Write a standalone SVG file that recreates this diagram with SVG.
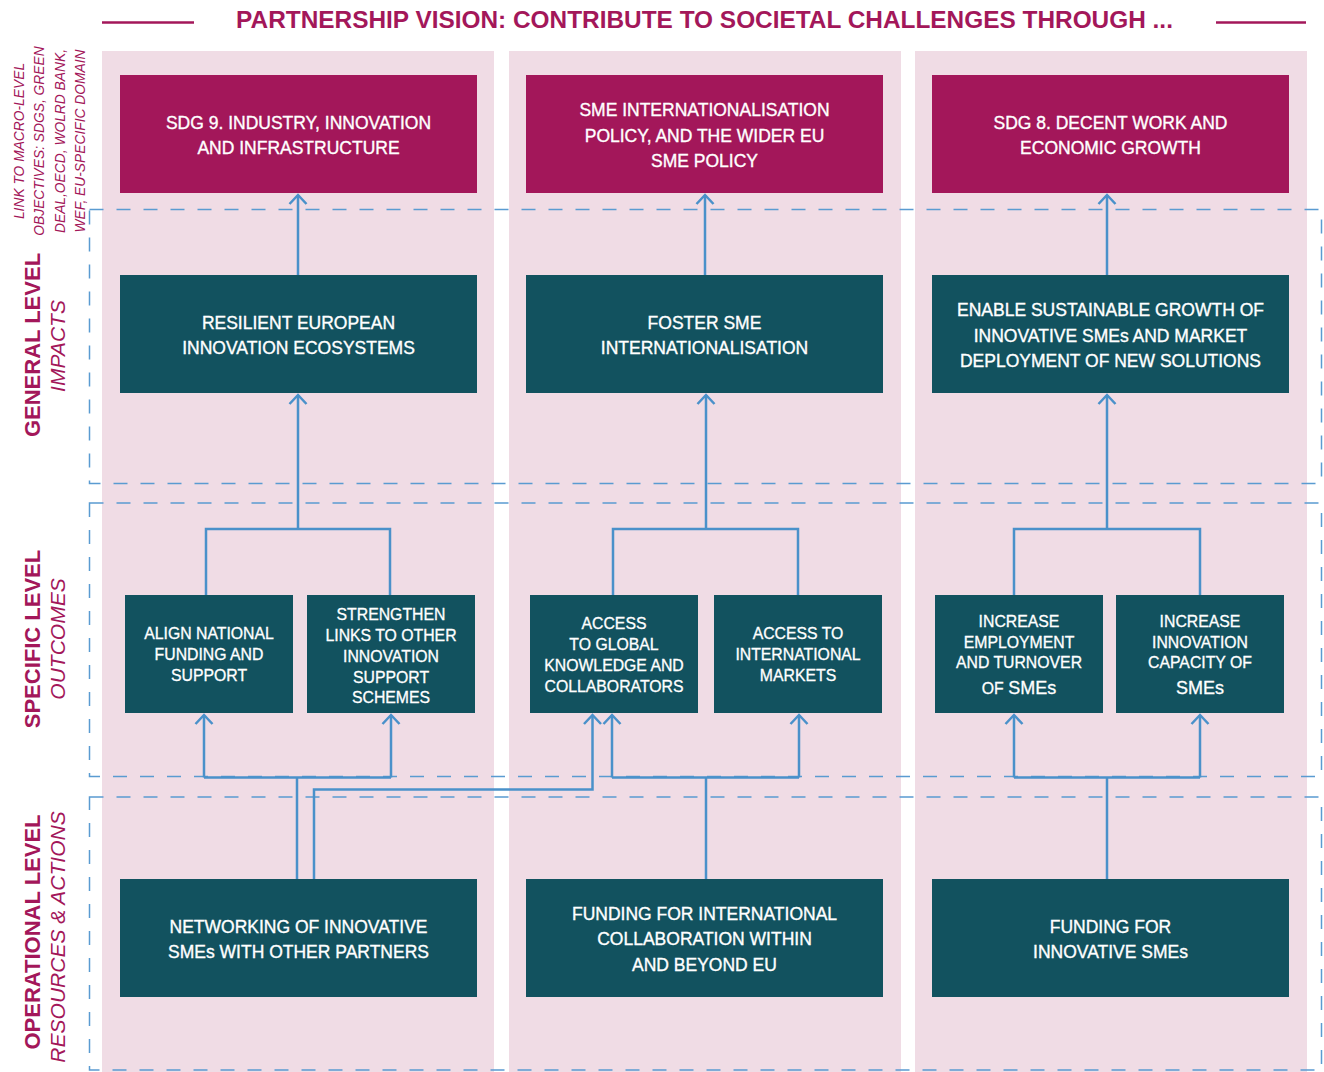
<svg xmlns="http://www.w3.org/2000/svg" width="1324" height="1072" viewBox="0 0 1324 1072">
<defs>
<style>
.col{fill:#f0dce5}
.mag{fill:#a3175a}
.teal{fill:#12525f}
.dash{fill:none;stroke:#5a9bd1;stroke-width:1.5;stroke-dasharray:14 13}
.con{fill:none;stroke:#4a91ca;stroke-width:2.5}
.arr{marker-end:url(#ah)}
.bt{font-family:"Liberation Sans",Arial,sans-serif;font-size:17.5px;fill:#ffffff;stroke:#ffffff;stroke-width:0.35;text-anchor:middle}
.st{font-family:"Liberation Sans",Arial,sans-serif;font-size:15.8px;fill:#ffffff;stroke:#ffffff;stroke-width:0.3;text-anchor:middle}
.big{font-size:18px}
.title{font-family:"Liberation Sans",Arial,sans-serif;font-size:24.4px;font-weight:bold;fill:#a3175a;text-anchor:middle}
.lvl{font-family:"Liberation Sans",Arial,sans-serif;font-size:22px;font-weight:bold;fill:#a3175a;text-anchor:middle}
.sub{font-family:"Liberation Sans",Arial,sans-serif;font-size:21px;font-style:italic;fill:#a3175a;text-anchor:middle}
.link{font-family:"Liberation Sans",Arial,sans-serif;font-size:13.8px;font-style:italic;fill:#a3175a;text-anchor:middle}
</style>
<marker id="ah" markerUnits="userSpaceOnUse" markerWidth="24" markerHeight="24" viewBox="-12 -12 24 24" refX="0" refY="0" orient="auto" overflow="visible">
<path d="M-9,-8.5 L0,0 L-9,8.5" fill="none" stroke="#4a91ca" stroke-width="2.5"/>
</marker>
</defs>
<rect width="1324" height="1072" fill="#ffffff"/>
<g id="background">
<rect class="col" x="102" y="51" width="392" height="1021"/>
<rect class="col" x="509" y="51" width="392" height="1021"/>
<rect class="col" x="915" y="51" width="392" height="1021"/>
<line x1="102" y1="22.5" x2="194" y2="22.5" stroke="#a3175a" stroke-width="2.5"/>
<line x1="1216" y1="22.5" x2="1306" y2="22.5" stroke="#a3175a" stroke-width="2.5"/>
<text class="title" x="704.5" y="28">PARTNERSHIP VISION: CONTRIBUTE TO SOCIETAL CHALLENGES THROUGH ...</text>
</g>
<g id="levels">
<rect class="dash" x="89.5" y="209.5" width="1232" height="274"/>
<rect class="dash" x="89.5" y="503" width="1232" height="273.5"/>
<rect class="dash" x="89.5" y="797" width="1232" height="273"/>
<g transform="translate(23.5,141) rotate(-90)"><text class="link" x="0" y="0">LINK TO MACRO-LEVEL</text></g>
<g transform="translate(44.3,141) rotate(-90)"><text class="link" x="0" y="0">OBJECTIVES: SDGS, GREEN</text></g>
<g transform="translate(64.8,141) rotate(-90)"><text class="link" x="0" y="0">DEAL,OECD, WOLRD BANK,</text></g>
<g transform="translate(85.3,141) rotate(-90)"><text class="link" x="0" y="0">WEF, EU-SPECIFIC DOMAIN</text></g>
<g transform="translate(39.5,345) rotate(-90)"><text class="lvl" x="0" y="0">GENERAL LEVEL</text></g>
<g transform="translate(65,346) rotate(-90)"><text class="sub" x="0" y="0">IMPACTS</text></g>
<g transform="translate(39.5,639) rotate(-90)"><text class="lvl" x="0" y="0">SPECIFIC LEVEL</text></g>
<g transform="translate(65,639) rotate(-90)"><text class="sub" x="0" y="0">OUTCOMES</text></g>
<g transform="translate(39.5,932) rotate(-90)"><text class="lvl" x="0" y="0">OPERATIONAL LEVEL</text></g>
<g transform="translate(65,937) rotate(-90)"><text class="sub" x="0" y="0">RESOURCES &amp; ACTIONS</text></g>
</g>
<g id="sdg9">
<rect class="mag" x="120" y="75" width="357" height="118"/>
<text class="bt" x="298.5" y="129">SDG 9. INDUSTRY, INNOVATION</text>
<text class="bt" x="298.5" y="154">AND INFRASTRUCTURE</text>
</g>
<g id="sme-policy">
<rect class="mag" x="526" y="75" width="357" height="118"/>
<text class="bt" x="704.5" y="116">SME INTERNATIONALISATION</text>
<text class="bt" x="704.5" y="141.5">POLICY, AND THE WIDER EU</text>
<text class="bt" x="704.5" y="167">SME POLICY</text>
</g>
<g id="sdg8">
<rect class="mag" x="932" y="75" width="357" height="118"/>
<text class="bt" x="1110.5" y="129">SDG 8. DECENT WORK AND</text>
<text class="bt" x="1110.5" y="154">ECONOMIC GROWTH</text>
</g>
<g id="resilient">
<rect class="teal" x="120" y="275" width="357" height="118"/>
<text class="bt" x="298.5" y="329.3">RESILIENT EUROPEAN</text>
<text class="bt" x="298.5" y="353.8">INNOVATION ECOSYSTEMS</text>
</g>
<g id="foster">
<rect class="teal" x="526" y="275" width="357" height="118"/>
<text class="bt" x="704.5" y="329.3">FOSTER SME</text>
<text class="bt" x="704.5" y="353.8">INTERNATIONALISATION</text>
</g>
<g id="enable">
<rect class="teal" x="932" y="275" width="357" height="118"/>
<text class="bt" x="1110.5" y="316">ENABLE SUSTAINABLE GROWTH OF</text>
<text class="bt" x="1110.5" y="341.5">INNOVATIVE SMEs AND MARKET</text>
<text class="bt" x="1110.5" y="367">DEPLOYMENT OF NEW SOLUTIONS</text>
</g>
<g id="align">
<rect class="teal" x="125" y="595" width="168" height="118"/>
<text class="st" x="209" y="639">ALIGN NATIONAL</text>
<text class="st" x="209" y="660">FUNDING AND</text>
<text class="st" x="209" y="681">SUPPORT</text>
</g>
<g id="strengthen">
<rect class="teal" x="307" y="595" width="168" height="118"/>
<text class="st" x="391" y="620">STRENGTHEN</text>
<text class="st" x="391" y="641">LINKS TO OTHER</text>
<text class="st" x="391" y="661.8">INNOVATION</text>
<text class="st" x="391" y="682.5">SUPPORT</text>
<text class="st" x="391" y="703.3">SCHEMES</text>
</g>
<g id="access-knowledge">
<rect class="teal" x="530" y="595" width="168" height="118"/>
<text class="st" x="614" y="629">ACCESS</text>
<text class="st" x="614" y="650">TO GLOBAL</text>
<text class="st" x="614" y="671">KNOWLEDGE AND</text>
<text class="st" x="614" y="691.5">COLLABORATORS</text>
</g>
<g id="access-markets">
<rect class="teal" x="714" y="595" width="168" height="118"/>
<text class="st" x="798" y="639">ACCESS TO</text>
<text class="st" x="798" y="660">INTERNATIONAL</text>
<text class="st" x="798" y="681">MARKETS</text>
</g>
<g id="employment">
<rect class="teal" x="935" y="595" width="168" height="118"/>
<text class="st" x="1019" y="627">INCREASE</text>
<text class="st" x="1019" y="648.3">EMPLOYMENT</text>
<text class="st" x="1019" y="668.3">AND TURNOVER</text>
<text class="st" x="1019" y="693.7">OF <tspan class="big">SMEs</tspan></text>
</g>
<g id="innovation-capacity">
<rect class="teal" x="1116" y="595" width="168" height="118"/>
<text class="st" x="1200" y="627">INCREASE</text>
<text class="st" x="1200" y="648.3">INNOVATION</text>
<text class="st" x="1200" y="668.3">CAPACITY OF</text>
<text class="st" x="1200" y="693.7"><tspan class="big">SMEs</tspan></text>
</g>
<g id="networking">
<rect class="teal" x="120" y="879" width="357" height="118"/>
<text class="bt" x="298.5" y="932.5">NETWORKING OF INNOVATIVE</text>
<text class="bt" x="298.5" y="957.5">SMEs WITH OTHER PARTNERS</text>
</g>
<g id="funding-international">
<rect class="teal" x="526" y="879" width="357" height="118"/>
<text class="bt" x="704.5" y="919.5">FUNDING FOR INTERNATIONAL</text>
<text class="bt" x="704.5" y="945">COLLABORATION WITHIN</text>
<text class="bt" x="704.5" y="970.5">AND BEYOND EU</text>
</g>
<g id="funding-innovative">
<rect class="teal" x="932" y="879" width="357" height="118"/>
<text class="bt" x="1110.5" y="932.5">FUNDING FOR</text>
<text class="bt" x="1110.5" y="957.5">INNOVATIVE SMEs</text>
</g>
<g id="connectors">
<path class="con arr" d="M298 275 V195"/>
<path class="con arr" d="M705 275 V195"/>
<path class="con arr" d="M1107 275 V195"/>
<path class="con" d="M206 595 V529 H390 V595"/>
<path class="con arr" d="M298 529 V395"/>
<path class="con" d="M613 595 V529 H798 V595"/>
<path class="con arr" d="M706 529 V395"/>
<path class="con" d="M1014 595 V529 H1200 V595"/>
<path class="con arr" d="M1107 529 V395"/>
<path class="con" d="M297 879 V777.5"/>
<path class="con" d="M204 777.5 H391"/>
<path class="con arr" d="M204 777.5 V715"/>
<path class="con arr" d="M391 777.5 V715"/>
<path class="con arr" d="M314 879 V789.5 H592.5 V715"/>
<path class="con" d="M706 879 V777.5"/>
<path class="con" d="M612 777.5 H799"/>
<path class="con arr" d="M612 777.5 V715"/>
<path class="con arr" d="M799 777.5 V715"/>
<path class="con" d="M1107 879 V777.5"/>
<path class="con" d="M1014 777.5 H1200"/>
<path class="con arr" d="M1014 777.5 V715"/>
<path class="con arr" d="M1200 777.5 V715"/>
</g>
</svg>
